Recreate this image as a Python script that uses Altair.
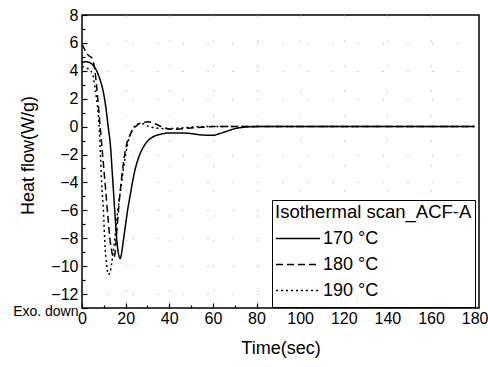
import altair as alt
import pandas as pd

# ---- data ----
temps = ["170 °C", "180 °C", "190 °C"]

t170 = [0, 2, 4, 6, 8, 10, 11, 12, 13, 14, 15, 16, 17, 17.5, 18, 19, 20, 21, 22, 23, 24, 26, 28, 30, 33, 36, 40, 45, 50, 55, 60, 63, 66, 70, 75, 80, 90, 100, 120, 140, 160, 180]
v170 = [4.6, 4.65, 4.55, 4.2, 3.5, 2.3, 1.3, 0.0, -1.3, -3.6, -6.0, -8.2, -9.3, -9.45, -9.2, -8.1, -7.0, -5.9, -5.0, -4.1, -3.3, -2.2, -1.5, -1.05, -0.7, -0.55, -0.45, -0.45, -0.5, -0.6, -0.62, -0.5, -0.35, -0.15, -0.03, 0, 0, 0, 0, 0, 0, 0]

t180 = [0, 1, 2, 3, 4, 5, 6, 7, 8, 9, 10, 11, 12, 13, 14, 14.6, 15.2, 16, 17, 18, 19, 20, 22, 24, 26, 28, 30, 32, 35, 38, 42, 46, 50, 55, 60, 70, 80, 100, 120, 140, 160, 180]
v180 = [5.9, 5.6, 5.3, 5.1, 5.0, 4.8, 3.9, 2.4, 0.6, -1.2, -3.0, -4.8, -6.7, -8.3, -9.2, -9.4, -9.0, -7.4, -5.5, -3.9, -2.6, -1.6, -0.6, -0.1, 0.2, 0.3, 0.35, 0.3, 0.1, -0.1, -0.2, -0.15, -0.1, -0.05, 0, 0, 0, 0, 0, 0, 0, 0]

t190 = [0, 2, 4, 5, 6, 7, 7.5, 8, 8.5, 9, 9.8, 10.6, 11.3, 12.1, 12.8, 13.5, 14.2, 15, 16, 17, 18, 19, 20, 21, 22, 24, 26, 28, 30, 34, 38, 45, 55, 70, 90, 120, 150, 180]
v190 = [4.3, 4.2, 4.0, 3.7, 2.7, 1.6, 0.8, -0.4, -2.1, -4.0, -6.0, -8.7, -9.9, -10.6, -10.5, -9.9, -9.1, -8.1, -6.6, -5.3, -4.2, -3.0, -2.0, -1.2, -0.6, 0.0, 0.2, 0.2, 0.05, -0.1, -0.15, -0.1, 0, 0, 0, 0, 0, 0]

x_major = [0, 20, 40, 60, 80, 100, 120, 140, 160, 180]
x_minor = [10, 30, 50, 70, 90, 110, 130, 150, 170]
y_major = [-13, -12, -10, -8, -6, -4, -2, 0, 2, 4, 6, 8]
y_minor = [-11, -9, -7, -5, -3, -1, 1, 3, 5, 7]

rows = []
for name, ts, vs in zip(temps, [t170, t180, t190], [v170, v180, v190]):
    for t, v in zip(ts, vs):
        rows.append({"t": t, "v": v, "temp": name})
df = pd.DataFrame(rows)

FONT = "Liberation Sans"

xscale = alt.Scale(domain=[0, 182], nice=False, zero=False)
yscale = alt.Scale(domain=[-13, 8], nice=False, zero=False)

lines = alt.Chart(df).mark_line(color="black", strokeWidth=1.5, interpolate="monotone").encode(
    x=alt.X("t:Q", scale=xscale, axis=alt.Axis(
        orient="bottom", values=x_major, tickSize=5, offset=-5, domain=False,
        labelPadding=2, labelFlush=False, labelOverlap=False,
        labelFontSize=16, labelFont=FONT, labelColor="black", tickColor="black", tickWidth=1.2,
        title="Time(sec)", titleFont=FONT, titleFontSize=18, titleFontWeight="normal",
        titleColor="black", titleY=45, titleBaseline="middle",
        grid=True, gridDash=[1, 24], gridColor="#aaa", gridWidth=1,
        gridOpacity={"condition": {"test": "datum.value == 0 || datum.value == 180", "value": 0}, "value": 1},
    )),
    y=alt.Y("v:Q", scale=yscale, axis=alt.Axis(
        orient="left", values=y_major, tickSize=5, offset=-5, domain=False,
        labelPadding=4, labelOverlap=False, labelFont=FONT, labelColor="black",
        labelFontSize={"condition": {"test": "datum.value == -13", "value": 14}, "value": 16},
        labelOffset={"condition": {"test": "datum.value == -13", "value": 3}, "value": 0},
        labelExpr="datum.value == -13 ? 'Exo. down' : datum.label",
        tickColor="black", tickWidth=1.2,
        title="Heat flow(W/g)", titleFont=FONT, titleFontSize=18, titleFontWeight="normal",
        titleColor="black", titleX=-59, titleY=140, titleBaseline="middle", titleAngle=-90,
        grid=True, gridDash=[1, 24], gridColor="#aaa", gridWidth=1,
        gridOpacity={"condition": {"test": "datum.value == -13 || datum.value == 8 || datum.value == 0", "value": 0}, "value": 1},
    )),
    strokeDash=alt.StrokeDash("temp:N", scale=alt.Scale(domain=temps, range=[[1, 0], [7, 4], [2, 3]]),
        legend=alt.Legend(
            orient="none", legendX=190, legendY=185,
            title="Isothermal scan_ACF-A", titleFont=FONT, titleFontSize=18.5, titleFontWeight="normal",
            titleColor="black", titlePadding=4, titleLimit=400,
            labelFont=FONT, labelFontSize=18, labelColor="black", labelOffset=2, labelLimit=300,
            symbolType="stroke", symbolSize=1936, symbolStrokeWidth=1.5, symbolStrokeColor="black",
            clipHeight=26, rowPadding=0,
            strokeColor="black", fillColor="white", padding=3,
        )),
)

minor = alt.Chart(df).mark_point(opacity=0).encode(
    x=alt.X("t:Q", scale=xscale, axis=alt.Axis(
        orient="bottom", values=x_minor, tickSize=3, offset=-3, domain=False, labels=False,
        tickColor="black", tickWidth=1.2, grid=False, title=None)),
    y=alt.Y("v:Q", scale=yscale, axis=alt.Axis(
        orient="left", values=y_minor, tickSize=3, offset=-3, domain=False, labels=False,
        tickColor="black", tickWidth=1.2, grid=False, title=None)),
)

chart = alt.layer(lines, minor).resolve_axis(x="independent", y="independent").properties(
    width=397, height=293,
    autosize=alt.AutoSizeParams(type="none"),
    padding={"left": 82, "top": 15, "right": 9, "bottom": 59},
    background="white",
).configure_view(stroke="black", strokeWidth=1.5)

chart.save("out.html", embed_options={"renderer": "svg", "actions": False})
